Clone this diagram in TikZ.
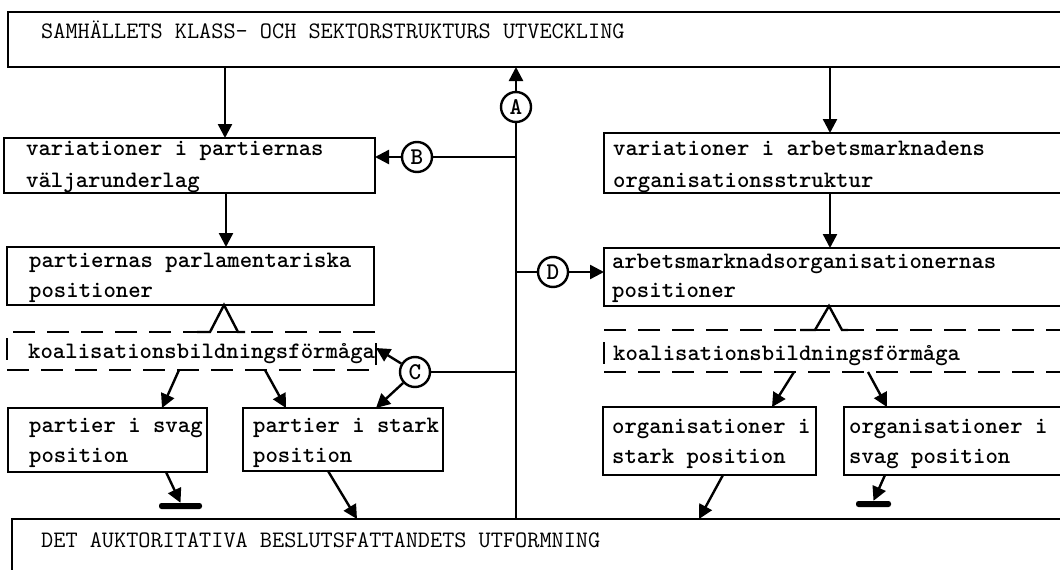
\documentclass[tikz,border=0pt]{standalone}
\usetikzlibrary{arrows.meta,calc}
\begin{document}
\begin{tikzpicture}[x=1pt,y=-1pt,
  box/.style={draw, line width=2.6pt, rectangle, outer sep=0pt, inner sep=0pt, anchor=north west},
  dbox/.style={box, dash pattern=on 22pt off 12pt},
  txt/.style={anchor=base west, inner sep=0pt, font=\fontsize{23.6}{28}\selectfont\ttfamily\bfseries},
  captxt/.style={anchor=base west, inner sep=0pt, font=\fontsize{23.6}{28}\selectfont\ttfamily},
  circ/.style={draw, circle, line width=2.4pt, minimum size=30pt, inner sep=0pt},
  circtxt/.style={font=\fontsize{24}{24}\selectfont\ttfamily\bfseries},
  conn/.style={line width=2.4pt},
  arr/.style={conn, -{Triangle[length=14pt,width=14pt]}},
  stopbar/.style={fill, rectangle, rounded corners=2.5pt, minimum height=6pt, inner sep=0pt}
]
\useasboundingbox (0,0) rectangle (1060,570);

% boxes
\node[box, minimum width=1100pt, minimum height=55pt] (T) at (8,12) {};
\node[captxt] (Tt) at (41,38) {SAMHÄLLETS KLASS- OCH SEKTORSTRUKTURS UTVECKLING};

\node[box, minimum width=371pt, minimum height=55pt] (L1) at (4,138) {};
\node[txt] (L1a) at (26,155) {variationer i partiernas};
\node[txt] (L1b) at (26,187) {väljarunderlag};

\node[box, minimum width=500pt, minimum height=60pt] (R1) at (604,133) {};
\node[txt] (R1a) at (613,155) {variationer i arbetsmarknadens};
\node[txt] (R1b) at (613,187) {organisationsstruktur};

\node[box, minimum width=367pt, minimum height=58pt] (L2) at (7,247) {};
\node[txt] (L2a) at (29,267) {partiernas parlamentariska};
\node[txt] (L2b) at (29,297) {positioner};

\node[box, minimum width=500pt, minimum height=58pt] (R2) at (604,248) {};
\node[txt] (R2a) at (612,268) {arbetsmarknadsorganisationernas};
\node[txt] (R2b) at (612,297) {positioner};

\node[dbox, minimum width=369pt, minimum height=38pt] (LD) at (7,332) {};
\node[txt] (LDt) at (28,358) {koalisationsbildningsförmåga};

\node[dbox, minimum width=500pt, minimum height=42pt] (RD) at (604,330) {};
\node[txt] (RDt) at (613,360) {koalisationsbildningsförmåga};

\node[box, minimum width=199pt, minimum height=64pt] (P3) at (8,408) {};
\node[txt] (P3a) at (29,432) {partier i svag};
\node[txt] (P3b) at (29,462) {position};

\node[box, minimum width=200pt, minimum height=63pt] (P4) at (243,408) {};
\node[txt] (P4a) at (253,432) {partier i stark};
\node[txt] (P4b) at (253,462) {position};

\node[box, minimum width=213pt, minimum height=68pt] (O5) at (603,407) {};
\node[txt] (O5a) at (612,433) {organisationer i};
\node[txt] (O5b) at (612,463) {stark position};

\node[box, minimum width=300pt, minimum height=68pt] (O6) at (844,407) {};
\node[txt] (O6a) at (849,433) {organisationer i};
\node[txt] (O6b) at (849,463) {svag position};

\node[box, minimum width=1100pt, minimum height=100pt] (BB) at (12,519) {};
\node[captxt] (BBt) at (41,547) {DET AUKTORITATIVA BESLUTSFATTANDETS UTFORMNING};

% circles
\node[circ] (A) at (516,107) {};
\node[circ] (B) at (417,157) {};
\node[circ] (C) at (415,372) {};
\node[circ] (D) at (553,272) {};
\node[circtxt] (At) at (A) {A};
\node[circtxt] (Bt) at (B) {B};
\node[circtxt] (Ct) at (C) {C};
\node[circtxt] (Dt) at (D) {D};

% stop bars
\node[stopbar, minimum width=43pt] (N1) at (180.5,506) {};
\node[stopbar, minimum width=35pt] (N2) at (873.5,504) {};

% main vertical connectors
\draw[arr] ([xshift=221pt]L1.north west |- T.south) -- ([xshift=221pt]L1.north west);
\draw[arr] ([xshift=226pt]R1.north west |- T.south) -- ([xshift=226pt]R1.north west);
\draw[arr] ([xshift=222pt]L1.south west) -- ([xshift=222pt]L1.south west |- L2.north);
\draw[arr] ([xshift=226pt]R1.south west) -- ([xshift=226pt]R1.south west |- R2.north);

% A spine
\draw[arr] (A) -- (A |- T.south);
\draw[conn] (A) -- (A |- BB.north);
\draw[conn] (A |- B) -- (B);
\draw[arr] (B) -- (B -| L1.east);
\draw[conn] (A |- D) -- (D);
\draw[arr] (D) -- (D -| R2.west);
\draw[conn] (A |- C) -- (C);
\draw[arr] (C) -- ([yshift=-16pt]LD.north east);
\draw[arr] (C) -- ([xshift=133pt]P4.north west);

% Lambda joints
\draw[conn] ([xshift=190pt]LD.north west) -- ([xshift=203pt]LD.north west)
  -- ([xshift=217pt]L2.south west) -- ([xshift=231pt]LD.north west) -- ([xshift=238pt]LD.north west);
\draw[conn] ([xshift=196pt]RD.north west) -- ([xshift=211pt]RD.north west)
  -- ([xshift=225pt]R2.south west) -- ([xshift=238pt]RD.north west) -- ([xshift=244pt]RD.north west);

% branches
\draw[arr] ([xshift=172pt]LD.south west) -- ([xshift=154pt]P3.north west);
\draw[arr] ([xshift=258pt]LD.south west) -- ([xshift=43pt]P4.north west);
\draw[arr] ([xshift=190pt]RD.south west) -- ([xshift=169pt]O5.north west);
\draw[arr] ([xshift=264pt]RD.south west) -- ([xshift=43pt]O6.north west);

% outputs
\draw[arr] ([xshift=158pt]P3.south west) -- (N1.north);
\draw[arr] ([xshift=85pt]P4.south west) -- ([xshift=345pt]BB.north west);
\draw[arr] ([xshift=120pt]O5.south west) -- ([xshift=687pt]BB.north west);
\draw[arr] ([xshift=41pt]O6.south west) -- (N2.north);
\end{tikzpicture}
\end{document}
